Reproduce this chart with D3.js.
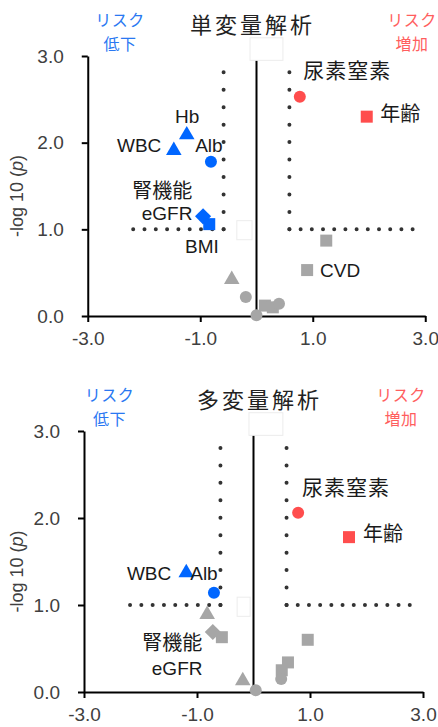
<!DOCTYPE html>
<html><head><meta charset="utf-8">
<script src="https://cdn.jsdelivr.net/npm/d3@7"></script>
<style>body{margin:0;background:#fff}svg{display:block}</style>
</head><body>
<script>
// ---------- data ----------
const xTicks = [-3, -1, 1, 3];
const xTickLabels = ["-3.0", "-1.0", "1.0", "3.0"];
const yTicks = [0, 1, 2, 3];
const yTickLabels = ["0.0", "1.0", "2.0", "3.0"];
const panelTitles = ["単変量解析", "多変量解析"];
const riskDownText = ["リスク", "低下"];
const riskUpText = ["リスク", "増加"];
const thresholdX = 0.585;
const thresholdY = 1.0;

// univariate
const uniX = [0.77, 1.96, -1.24, -1.47, -0.81, -0.95, -0.84, 1.24, 0.90, -0.44, -0.19, 0.00, 0.15, 0.29, 0.40];
const uniY = [2.53, 2.30, 2.09, 1.91, 1.78, 1.15, 1.06, 0.87, 0.53, 0.42, 0.22, 0.01, 0.12, 0.10, 0.14];
const uniShape = ["circle","square","triangle","triangle","circle","diamond","square","square","square","triangle","circle","circle","square","square","circle"];
const uniGroup = ["up","up","down","down","down","down","down","ns","ns","ns","ns","ns","ns","ns","ns"];
const uniLabelText = ["尿素窒素", "年齢", "Hb", "WBC", "Alb", "腎機能", "eGFR", "BMI", "CVD"];
const uniLabelX = [0.83, 2.20, -1.45, -2.48, -1.09, -2.21, -2.04, -1.27, 1.13];
const uniLabelY = [2.745, 2.25, 2.23, 1.89, 1.89, 1.36, 1.11, 0.73, 0.45];

// multivariate
const multiX = [0.79, 1.69, -1.19, -0.70, -0.82, -0.72, -0.56, -0.19, 0.04, 0.96, 0.61, 0.50, 0.49];
const multiY = [2.06, 1.78, 1.37, 1.14, 0.89, 0.69, 0.63, 0.13, 0.02, 0.60, 0.34, 0.25, 0.15];
const multiShape = ["circle","square","triangle","circle","triangle","diamond","square","triangle","circle","square","square","square","circle"];
const multiGroup = ["up","up","down","down","ns","ns","ns","ns","ns","ns","ns","ns","ns"];
const multiLabelText = ["尿素窒素", "年齢", "WBC", "Alb", "腎機能", "eGFR"];
const multiLabelX = [0.86, 1.94, -2.24, -1.12, -1.97, -1.80];
const multiLabelY = [2.26, 1.74, 1.29, 1.29, 0.48, 0.195];

// ---------- style ----------
const colors = { up: "#ff4d4d", down: "#0066ff", ns: "#a6a6a6" };
const textUp = "#ff5e5e", textDown = "#2a78f2";
const latinFont = "'Liberation Sans', Arial, 'Noto Sans CJK JP', sans-serif";
const cjkFont = "'Noto Sans CJK JP', 'Liberation Sans', sans-serif";

const W = 438, H = 727;
const svg = d3.select("body").append("svg").attr("width", W).attr("height", H);

const panels = [
  { title: panelTitles[0], xr: [87.75, 425.25], yr: [316, 56], titleX: 190, downX: 120, upX: 412,
    xs: uniX, ys: uniY, shapes: uniShape, groups: uniGroup,
    lt: uniLabelText, lx: uniLabelX, ly: uniLabelY,
    boxes: [[-0.115, 0.47, 3.21, 2.95], [-0.35, -0.08, 1.10, 0.88]], hLeft: -2.2, hRight: 2.78 },
  { title: panelTitles[1], xr: [84, 423], yr: [692, 431], titleX: 197, downX: 109.5, upX: 401,
    xs: multiX, ys: multiY, shapes: multiShape, groups: multiGroup,
    lt: multiLabelText, lx: multiLabelX, ly: multiLabelY,
    boxes: [[-0.08, 0.52, 3.21, 2.95], [-0.29, -0.06, 1.09, 0.87]], hLeft: -2.19, hRight: 2.8 }
];

function isCJK(s) { return /[\u3000-\u9fff]/.test(s); }

panels.forEach(p => {
  const x = d3.scaleLinear().domain([-3, 3]).range(p.xr);
  const y = d3.scaleLinear().domain([0, 3]).range(p.yr);
  const g = svg.append("g");

  // axes
  const ax = g.append("g").attr("transform", `translate(0,${y(0)})`)
    .call(d3.axisBottom(x).tickValues(xTicks).tickFormat((d, i) => xTickLabels[i]).tickSize(6).tickSizeOuter(0).tickPadding(10));
  const ay = g.append("g").attr("transform", `translate(${x(-3)},0)`)
    .call(d3.axisLeft(y).tickValues(yTicks).tickFormat((d, i) => yTickLabels[i]).tickSize(6).tickSizeOuter(0).tickPadding(18));
  [ax, ay].forEach(a => {
    a.select(".domain").attr("stroke", "#000").attr("stroke-width", 2);
    a.selectAll(".tick line").attr("stroke", "#000").attr("stroke-width", 2);
    a.selectAll(".tick text").attr("fill", "#404040").style("font-family", latinFont).style("font-size", "19px");
  });

  // y axis title
  const yt = g.append("text")
    .attr("transform", `translate(23,${(p.yr[0] + p.yr[1]) / 2 + 10}) rotate(-90)`)
    .attr("text-anchor", "middle")
    .style("font-family", latinFont).style("font-size", "18px").attr("fill", "#404040");
  yt.append("tspan").text("-log 10 (");
  yt.append("tspan").text("p").style("font-style", "italic");
  yt.append("tspan").text(")");

  // zero line
  g.append("line").attr("x1", x(0)).attr("x2", x(0)).attr("y1", y(0)).attr("y2", y(3))
    .attr("stroke", "#000").attr("stroke-width", 2);

  // dotted threshold lines
  const dot = (x1, y1, x2, y2, gap) => g.append("line")
    .attr("x1", x1).attr("y1", y1).attr("x2", x2).attr("y2", y2)
    .attr("stroke", "#333").attr("stroke-width", 4).attr("stroke-linecap", "round")
    .attr("stroke-dasharray", `0 ${gap}`);
  dot(x(-thresholdX), y(thresholdY), x(-thresholdX), y(2.82), 17.45);
  dot(x(thresholdX), y(thresholdY), x(thresholdX), y(2.82), 17.45);
  dot(x(-thresholdX), y(thresholdY), x(p.hLeft), y(thresholdY), 11.3);
  dot(x(thresholdX), y(thresholdY), x(p.hRight), y(thresholdY), 11.2);

  // faint boxes (artifacts in source)
  p.boxes.forEach(b => {
    g.append("rect").attr("x", x(b[0])).attr("y", y(b[2]))
      .attr("width", x(b[1]) - x(b[0])).attr("height", y(b[3]) - y(b[2]))
      .attr("fill", "#fff").attr("stroke", "#ececec").attr("stroke-width", 1);
  });

  // points: grey first
  const idx = d3.range(p.xs.length).sort((a, b) => (p.groups[a] === "ns" ? 0 : 1) - (p.groups[b] === "ns" ? 0 : 1));
  idx.forEach(i => {
    const s = p.shapes[i];
    let sym, size, rot = 0;
    if (s === "circle") { sym = d3.symbolCircle; size = Math.PI * 36; }
    else if (s === "square") { sym = d3.symbolSquare; size = 144; }
    else if (s === "triangle") { sym = d3.symbolTriangle; size = 105; }
    else { sym = d3.symbolSquare; size = 130; rot = 45; }
    g.append("path").attr("d", d3.symbol(sym, size)())
      .attr("transform", `translate(${x(p.xs[i])},${y(p.ys[i])}) rotate(${rot})`)
      .attr("fill", colors[p.groups[i]]);
  });

  // point labels
  p.lt.forEach((t, i) => {
    const cjk = isCJK(t);
    g.append("text").attr("x", x(p.lx[i])).attr("y", y(p.ly[i]))
      .text(t).attr("fill", "#1a1a1a")
      .style("font-family", cjk ? cjkFont : latinFont)
      .style("font-size", cjk ? (t.length === 4 ? "21px" : "20px") : "19px")
      .style("letter-spacing", cjk && t.length === 4 ? "1px" : "0px");
  });

  // title
  g.append("text").attr("x", p.titleX).attr("y", p.yr[1] - 23).text(p.title)
    .style("font-family", cjkFont).style("font-size", "22px").style("letter-spacing", "3px").attr("fill", "#222");

  // risk labels (two lines)
  [[riskDownText, p.downX, textDown], [riskUpText, p.upX, textUp]].forEach(([lines, cx, col]) => {
    lines.forEach((l, j) => {
      g.append("text").attr("x", cx).attr("y", p.yr[1] - 30 + j * 23.5).text(l)
        .attr("text-anchor", "middle").attr("fill", col)
        .style("font-family", cjkFont).style("font-size", "16px").style("letter-spacing", "0.5px");
    });
  });
});
</script>
</body></html>
